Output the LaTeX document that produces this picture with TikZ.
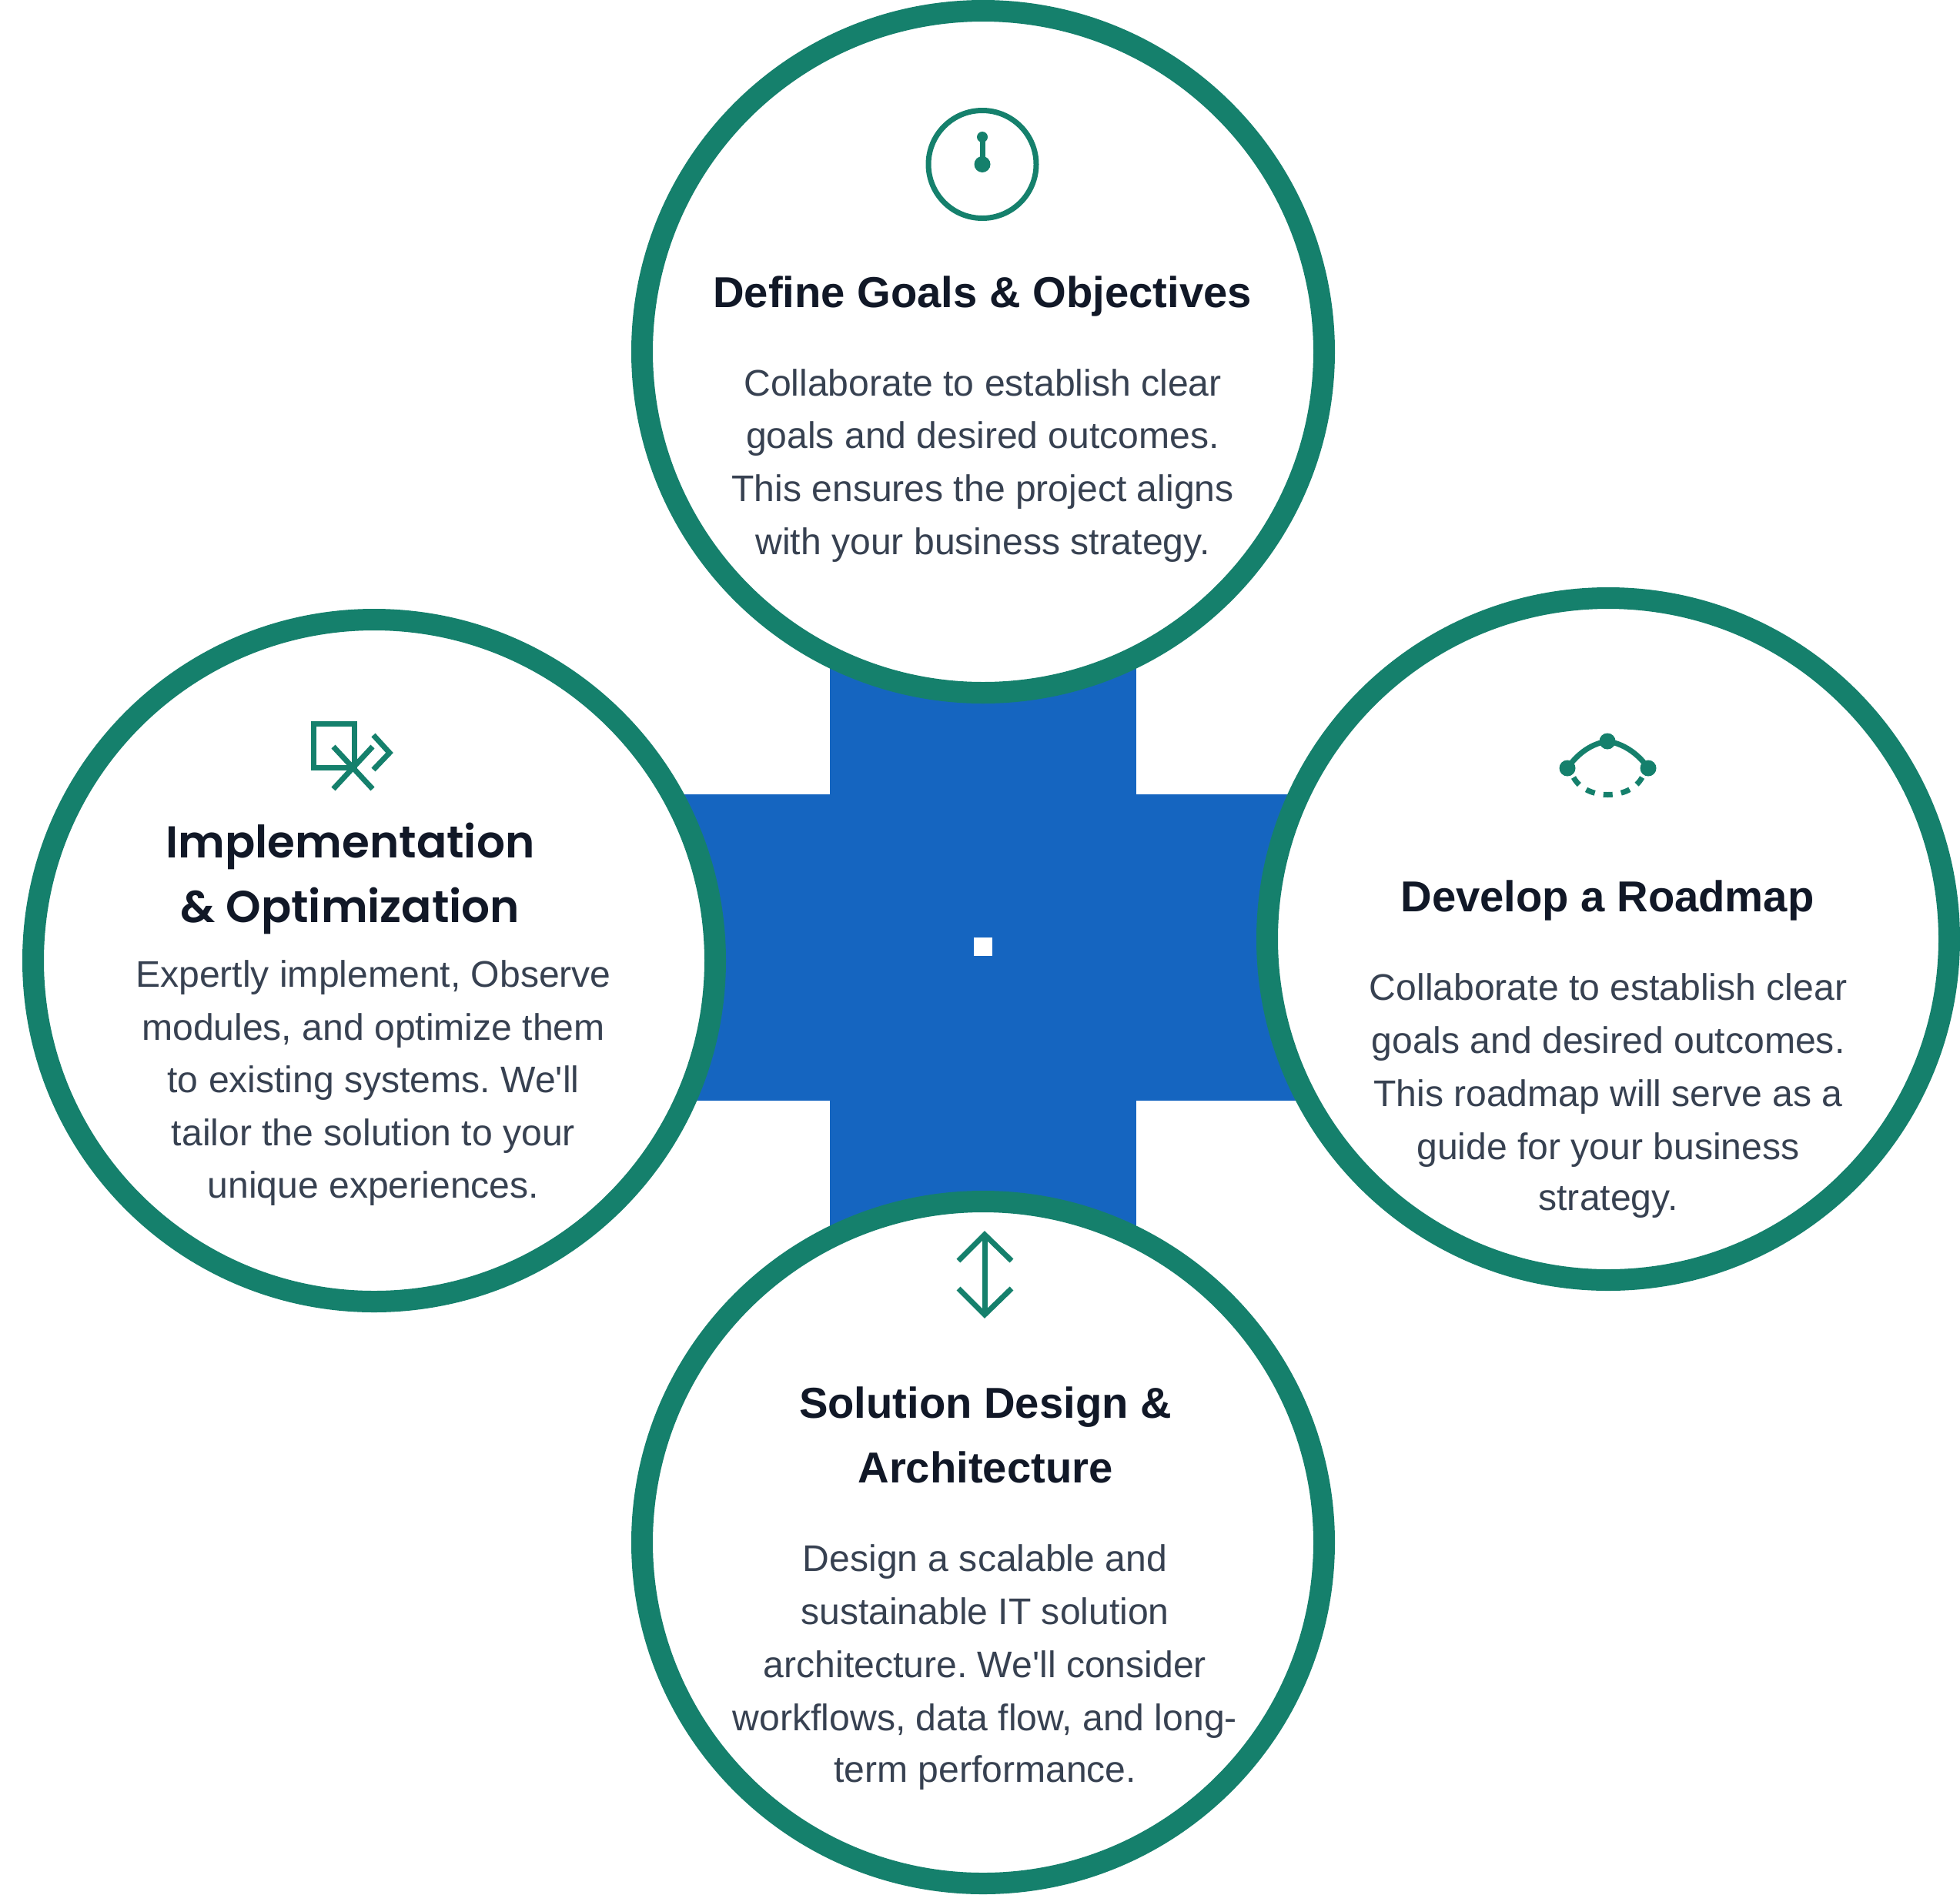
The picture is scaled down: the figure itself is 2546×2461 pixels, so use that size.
\documentclass[tikz,border=0pt]{standalone}
\usepackage{fontspec}
\setmainfont{Liberation Sans}
\newfontfamily\bodyfont{Liberation Sans}
\newfontfamily\titlealt[BoldFont={Poppins SemiBold}]{Poppins}
\definecolor{ring}{HTML}{15806C}
\definecolor{crossblue}{HTML}{1565C0}
\definecolor{headc}{HTML}{111827}
\definecolor{bodyc}{HTML}{374151}
\tikzset{
  x=1pt,y=-1pt,
  stagecircle/.style={circle,draw=ring,line width=28pt,fill=white,minimum size=886pt,inner sep=0pt},
  crossarm/.style={fill=crossblue,inner sep=0pt,outer sep=0pt},
  head/.style={anchor=base,inner sep=0pt,align=center,text=headc,font=\fontsize{56.2}{84}\selectfont\bfseries},
  headalt/.style={head,font=\fontsize{58}{84}\selectfont\titlealt\bfseries},
  body/.style={anchor=base,inner sep=0pt,align=center,text=bodyc,font=\fontsize{48.1}{68.8}\selectfont\bodyfont\frenchspacing},
  icon/.style={draw=ring,line width=7pt,line join=miter},
  icondot/.style={circle,fill=ring,inner sep=0pt},
}
\begin{document}
\begin{tikzpicture}
\useasboundingbox (0,0) rectangle (2546,2461);
% cross
\node[crossarm,minimum width=398pt,minimum height=760pt] (vbar) at (1277,1230.5) {};
\node[crossarm,minimum width=860pt,minimum height=398pt] (hbar) at (1277,1230.5) {};
\node[fill=white,inner sep=0pt,minimum size=24pt] (centre) at (1277,1230) {};
% circles
\node[stagecircle] (top) at (1277,457) {};
\node[stagecircle] (right) at (2089,1220) {};
\node[stagecircle] (bottom) at (1277,2004) {};
\node[stagecircle] (left) at (486,1248) {};
% top icon
\node[circle,icon,minimum size=140pt,inner sep=0pt] (clock) at (1276,213.5) {};
\node[icondot,minimum size=21pt] (hub) at (1276,213.5) {};
\node[icondot,minimum size=14pt] (tip) at (1276,178) {};
\draw[icon] (hub.center) -- (tip.center);
% left icon
\draw[icon] (407.5,940.5) rectangle (460.5,997.5);
\draw[icon] (433,970) -- (484,1025);
\draw[icon] (484,970) -- (433,1025);
\draw[icon] (485,955) -- (506,978) -- (485,1000);
% right icon
\node[icondot,minimum size=21pt] (rl) at (2036,998) {};
\node[icondot,minimum size=21pt] (rt) at (2088,963) {};
\node[icondot,minimum size=21pt] (rr) at (2141,998) {};
\draw[icon] (rl.center) .. controls (2050,978) and (2068,966) .. (rt.center) .. controls (2108,966) and (2127,978) .. (rr.center);
\coordinate (dashstart) at (2044,1010);
\coordinate (dashend) at (2133,1010);
\draw[icon,dash pattern=on 12pt off 11.25pt] (dashstart) .. controls (2060,1040) and (2117,1040) .. (dashend);
% bottom icon
\draw[icon] (1245,1638) -- (1279,1604) -- (1314,1638);
\draw[icon] (1245,1674) -- (1279,1708) -- (1314,1674);
\draw[icon] (1279,1604) -- (1279,1708);
% text (anchored on the baseline of each block's last line)
\node[head] (th) at (1276,399.5) {Define Goals \& Objectives};
\node[body] (tb) at (1276.5,720.5) {Collaborate to establish clear\\goals and desired outcomes.\\This ensures the project aligns\\with your business strategy.};
\node[head] (rh) at (2088,1184.5) {Develop a Roadmap};
\node[body] (rb) at (2089,1572) {Collaborate to establish clear\\goals and desired outcomes.\\This roadmap will serve as a\\guide for your business\\[-3pt]strategy.};
\node[head] (bh) at (1280,1926.5) {Solution Design \&\\Architecture};
\node[body] (bb) at (1279.5,2315.5) {Design a scalable and\\sustainable IT solution\\architecture. We'll consider\\workflows, data flow, and long-\\[-1.5pt]term performance.};
\node[headalt] (lh) at (455,1198) {Implementation\\\& Optimization};
\node[body] (lb) at (485,1556) {Expertly implement, Observe\\modules, and optimize them\\to existing systems. We'll\\tailor the solution to your\\[-1.5pt]unique experiences.};
\end{tikzpicture}
\end{document}
